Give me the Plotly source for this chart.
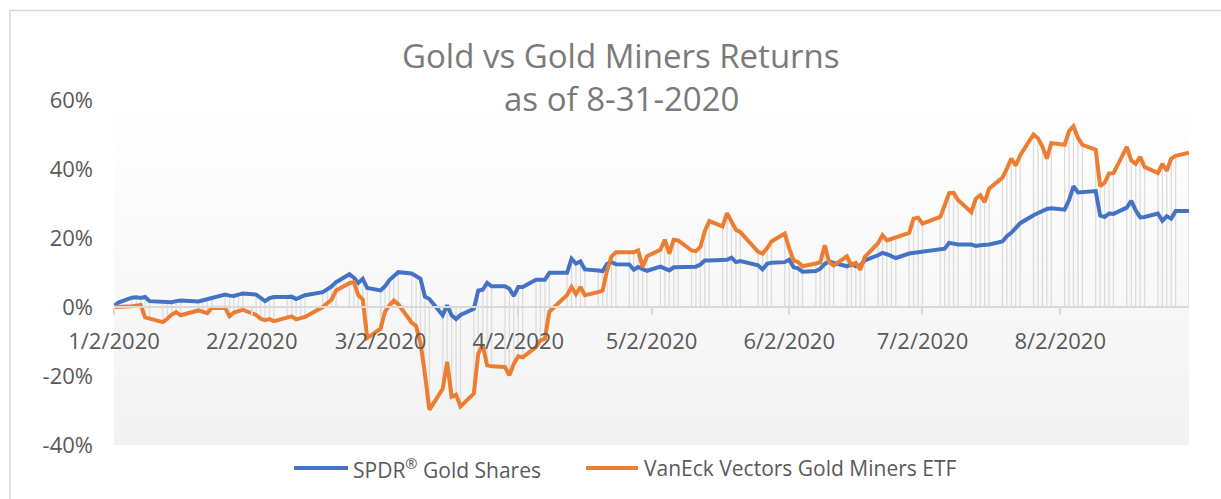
import plotly.graph_objects as go

# ---------------- data ----------------
trading_days = {
    1: [2, 3, 6, 7, 8, 9, 10, 13, 14, 15, 16, 17, 21, 22, 23, 24, 27, 28, 29, 30, 31],
    2: [3, 4, 5, 6, 7, 10, 11, 12, 13, 14, 18, 19, 20, 21, 24, 25, 26, 27, 28],
    3: [2, 3, 4, 5, 6, 9, 10, 11, 12, 13, 16, 17, 18, 19, 20, 23, 24, 25, 26, 27, 30, 31],
    4: [1, 2, 3, 6, 7, 8, 9, 13, 14, 15, 16, 17, 20, 21, 22, 23, 24, 27, 28, 29, 30],
    5: [1, 4, 5, 6, 7, 8, 11, 12, 13, 14, 15, 18, 19, 20, 21, 22, 26, 27, 28, 29],
    6: [1, 2, 3, 4, 5, 8, 9, 10, 11, 12, 15, 16, 17, 18, 19, 22, 23, 24, 25, 26, 29, 30],
    7: [1, 2, 6, 7, 8, 9, 10, 13, 14, 15, 16, 17, 20, 21, 22, 23, 24, 27, 28, 29, 30, 31],
    8: [3, 4, 5, 6, 7, 10, 11, 12, 13, 14, 17, 18, 19, 20, 21, 24, 25, 26, 27, 28, 31],
}
dates = [f"2020-{m:02d}-{d:02d}" for m, days in trading_days.items() for d in days]

gld_jan = [0.3, 1.3, 2.7, 2.8, 2.6, 2.9, 1.7, 1.6, 1.3, 1.4, 1.7, 1.9, 1.6, 1.9, 2.2, 2.5, 3.6, 3.3, 3.2, 3.6, 3.9]
gld_feb = [3.6, 2.6, 1.7, 2.6, 2.9, 2.9, 3.0, 2.3, 2.9, 3.4, 4.3, 5.0, 6.0, 7.2, 9.5, 8.5, 7.0, 8.2, 5.5]
gld_mar = [4.8, 6.0, 7.8, 9.0, 10.1, 9.7, 8.8, 8.2, 3.0, 2.3, -2.4, 0.5, -2.4, -3.5, -2.3, -0.5, 4.8, 5.0, 7.0, 6.0, 6.0, 5.3]
gld_apr = [3.2, 5.8, 5.8, 7.9, 7.9, 7.9, 9.9, 9.9, 14.0, 12.6, 13.2, 10.9, 10.6, 10.4, 12.5, 13.0, 12.4, 12.3, 10.8, 11.6, 11.0]
gld_may = [10.5, 11.7, 11.2, 10.6, 11.5, 11.5, 11.6, 11.7, 12.3, 13.5, 13.5, 13.5, 13.7, 14.3, 13.0, 13.3, 12.1, 10.9, 12.5, 12.8]
gld_jun = [13.0, 13.7, 11.5, 11.2, 10.2, 10.4, 11.1, 12.5, 13.2, 12.8, 11.8, 12.5, 11.8, 12.0, 13.5, 15.0, 15.7, 15.3, 14.7, 14.2, 15.5, 15.7]
gld_jul = [15.7, 16.1, 16.7, 16.9, 18.6, 18.2, 18.1, 18.1, 17.7, 17.9, 18.0, 18.1, 19.0, 20.5, 21.5, 23.0, 24.3, 26.6, 27.2, 27.8, 28.4, 28.6]
gld_aug = [28.2, 31.0, 35.0, 33.2, 33.3, 33.6, 26.5, 26.1, 27.1, 27.0, 28.8, 30.8, 28.0, 26.0, 26.1, 27.1, 25.0, 26.3, 25.6, 27.8, 27.8]

gdx_jan = [0.0, 0.0, 0.2, 0.4, 0.6, -3.0, -3.4, -4.4, -3.4, -2.2, -1.5, -2.4, -1.0, -1.4, -1.8, -0.3, -0.2, -2.7, -1.6, -1.2, -0.8]
gdx_feb = [-2.3, -3.4, -3.8, -3.5, -4.1, -2.9, -2.7, -3.6, -3.1, -2.9, 0.0, 1.0, 2.2, 4.8, 6.9, 7.2, 3.4, 2.2, -9.0]
gdx_mar = [-6.3, -1.4, 0.5, 1.9, 0.8, -4.5, -5.5, -10.5, -19.5, -29.8, -23.7, -15.9, -26.0, -25.4, -28.8, -25.1, -13.5, -11.1, -16.9, -17.2, -17.4, -19.8]
gdx_apr = [-16.5, -14.3, -14.6, -11.6, -9.7, -9.2, -1.4, 3.5, 5.8, 3.7, 5.8, 3.4, 4.3, 4.8, 10.6, 14.7, 15.9, 15.9, 15.9, 16.4, 11.6]
gdx_may = [14.7, 16.6, 19.5, 15.5, 19.5, 19.3, 16.4, 16.2, 17.4, 22.0, 24.9, 23.4, 27.2, 25.0, 22.4, 21.7, 16.0, 15.5, 17.0, 19.0]
gdx_jun = [21.3, 17.0, 13.5, 13.0, 11.8, 12.6, 13.0, 17.9, 13.0, 12.0, 14.7, 12.1, 12.8, 10.8, 14.5, 18.5, 20.8, 19.3, 19.8, 20.3, 21.5, 25.6]
gdx_jul = [25.9, 24.2, 26.1, 29.5, 33.0, 33.1, 31.0, 27.5, 31.4, 32.4, 30.4, 34.3, 37.5, 40.1, 43.0, 41.0, 44.0, 50.0, 48.9, 46.5, 43.0, 47.5]
gdx_aug = [47.0, 51.0, 52.4, 49.0, 47.0, 45.6, 35.0, 36.0, 38.7, 38.8, 46.4, 42.5, 41.5, 43.5, 40.6, 38.8, 41.5, 39.5, 43.0, 43.8, 44.7]

gld = gld_jan + gld_feb + gld_mar + gld_apr + gld_may + gld_jun + gld_jul + gld_aug
gdx = gdx_jan + gdx_feb + gdx_mar + gdx_apr + gdx_may + gdx_jun + gdx_jul + gdx_aug

series_names = ["SPDR® Gold Shares", "VanEck Vectors Gold Miners ETF"]
x_tick_dates = ["2020-01-02", "2020-02-02", "2020-03-02", "2020-04-02",
                "2020-05-02", "2020-06-02", "2020-07-02", "2020-08-02"]
x_tick_text = ["1/2/2020", "2/2/2020", "3/2/2020", "4/2/2020",
               "5/2/2020", "6/2/2020", "7/2/2020", "8/2/2020"]
y_tick_vals = [-40, -20, 0, 20, 40, 60]
y_tick_text = ["-40%", "-20%", "0%", "20%", "40%", "60%"]

# ---------------- layout geometry ----------------
W, H = 1221, 499
L, R, T, B = 114, 32, 100, 54
PW, PH = W - L - R, H - T - B
FONT = "Open Sans"
BLUE, ORANGE = "#4472C4", "#ED7D31"


def fx(p):
    return (p - L) / PW


def fy(p):
    return 1 - (p - T) / PH


fig = go.Figure()

# drop lines (Excel style) from data to category axis
dx, dy = [], []
for d, a, b in zip(dates, gld, gdx):
    dx += [d, d, None]
    dy += [min(0, a, b), max(0, a, b), None]
fig.add_trace(go.Scatter(x=dx, y=dy, mode="lines", line=dict(color="#dcdcdc", width=1.3),
                         hoverinfo="skip", showlegend=False))

fig.add_trace(go.Scatter(x=dates, y=gld, mode="lines", name=series_names[0],
                         line=dict(color=BLUE, width=4), showlegend=False))
fig.add_trace(go.Scatter(x=dates, y=gdx, mode="lines", name=series_names[1],
                         line=dict(color=ORANGE, width=4), showlegend=False))

shapes = []
# gradient plot background
n = 60
for i in range(n):
    t = (i + 0.5) / n
    c = round(255 - 13 * t)
    shapes.append(dict(type="rect", xref="x domain", yref="y domain",
                       x0=0, x1=1, y0=1 - (i + 1) / n, y1=1 - i / n,
                       fillcolor=f"rgb({c},{c},{c})", line=dict(width=0), layer="below"))
# chart border
shapes.append(dict(type="rect", xref="paper", yref="paper",
                   x0=fx(10), x1=fx(1240), y0=fy(10.5), y1=fy(520),
                   line=dict(color="#d9d9d9", width=1.5), fillcolor="rgba(0,0,0,0)", layer="below"))
# legend samples
shapes.append(dict(type="line", xref="paper", yref="paper", x0=fx(294), x1=fx(348),
                   y0=fy(468), y1=fy(468), line=dict(color=BLUE, width=4)))
shapes.append(dict(type="line", xref="paper", yref="paper", x0=fx(586), x1=fx(638),
                   y0=fy(468), y1=fy(468), line=dict(color=ORANGE, width=4)))

annotations = [
    dict(text="Gold vs Gold Miners Returns", xref="paper", yref="paper", x=fx(621), y=fy(55),
         xanchor="center", yanchor="middle", showarrow=False,
         font=dict(family=FONT, size=33, color="#7a7a7a")),
    dict(text="as of 8-31-2020", xref="paper", yref="paper", x=fx(621), y=fy(99),
         xanchor="center", yanchor="middle", showarrow=False,
         font=dict(family=FONT, size=33, color="#7a7a7a")),
    dict(text="SPDR<sup>®</sup> Gold Shares", xref="paper", yref="paper", x=fx(351), y=fy(468),
         xanchor="left", yanchor="middle", showarrow=False,
         font=dict(family=FONT, size=21, color="#595959")),
    dict(text=series_names[1], xref="paper", yref="paper", x=fx(642), y=fy(468),
         xanchor="left", yanchor="middle", showarrow=False,
         font=dict(family=FONT, size=21, color="#595959")),
]

fig.update_layout(
    width=W, height=H,
    margin=dict(l=L, r=R, t=T, b=B, autoexpand=False),
    paper_bgcolor="white", plot_bgcolor="white",
    font=dict(family=FONT, color="#595959"),
    showlegend=False,
    shapes=shapes, annotations=annotations,
    xaxis=dict(type="date", range=["2020-01-02", "2020-08-31"],
               anchor="free", position=0.4,
               showline=True, linecolor="#d9d9d9", linewidth=1.5,
               ticks="outside", ticklen=7, tickwidth=1.5, tickcolor="#d9d9d9",
               tickvals=x_tick_dates, ticktext=x_tick_text,
               tickfont=dict(family=FONT, size=22, color="#595959"),
               ticklabelstandoff=8,
               showgrid=False, zeroline=False, fixedrange=True),
    yaxis=dict(range=[-40, 60], tickvals=y_tick_vals, ticktext=y_tick_text,
               tickfont=dict(family=FONT, size=22, color="#595959"),
               showgrid=False, zeroline=False, showline=False, ticks="",
               ticklabelstandoff=20, fixedrange=True),
)

fig.write_html("out.html")
